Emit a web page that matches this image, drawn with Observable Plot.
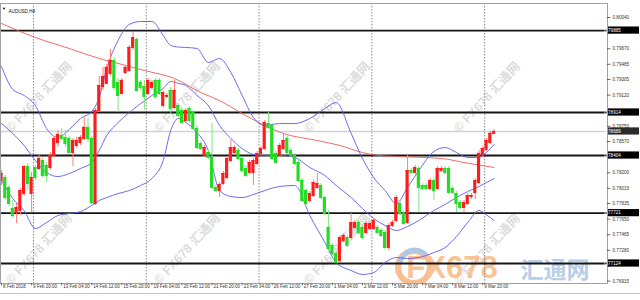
<!DOCTYPE html>
<html><head><meta charset="utf-8">
<script src="https://cdn.jsdelivr.net/npm/d3@7"></script>
<script src="https://cdn.jsdelivr.net/npm/@observablehq/plot@0.6"></script>
<style>
html,body{margin:0;padding:0;background:#fff;}
#chart{width:640px;height:300px;overflow:hidden;position:relative;}
</style></head><body><div id="chart"></div>
<script>
// ---- data (prices in points, 1 point = 0.00001) ----
const symbol = "AUDUSD,H4";
const POINT = 1e-5;
const opens  = [78108,78143,78025,77776,77728,77752,77953,78274,77953,78262,78250,78345,78286,78262,78405,78558,78642,78618,78606,78440,78523,78558,78606,78737,78606,77835,78938,79222,79258,79376,79531,79270,79139,79388,79412,79685,79780,79270,79222,79139,79210,79294,79294,78997,79104,79175,78973,78997,78938,78819,78962,78914,78725,78546,78405,78440,78381,78025,77989,78072,78143,78345,78440,78464,78369,78250,78202,78202,78309,78428,78487,78784,78760,78428,78405,78487,78606,78464,78405,78321,78108,77989,77871,77930,78025,78049,77906,77551,77338,77243,77159,77397,77432,77432,77551,77610,77551,77491,77539,77539,77551,77515,77491,77314,77574,77634,77835,77716,77610,78226,78202,78250,78049,78049,78013,78108,78013,78226,78250,78250,78013,77953,77847,77788,77835,77918,77965,78084,78405,78476,78558,78666];
const highs  = [78226,78167,78049,77871,77835,78013,78286,78309,78202,78286,78405,78381,78321,78440,78630,78701,78725,78701,78630,78606,78618,78642,78855,78843,78630,78962,79341,79448,79484,79661,79566,79317,79317,79472,79709,79862,79803,79294,79294,79317,79294,79317,79317,79175,79139,79210,79294,79021,78962,78962,78985,78938,78760,78570,78523,78464,78784,78049,78084,78214,78393,78582,78523,78487,78393,78286,78345,78369,78452,78511,78819,78914,78784,78452,78546,78666,78630,78487,78428,78345,78131,78013,77977,78108,78191,78072,77930,77752,77361,77266,77456,77479,77456,77716,77634,77634,77574,77622,77622,77657,77574,77539,77515,77598,77634,77930,77859,77740,78405,78250,78286,78274,78072,78072,78131,78131,78274,78274,78274,78274,78037,77977,77871,77871,77953,77953,78131,78464,78511,78606,78689,78713];
const lows   = [78049,77871,77800,77657,77598,77693,77918,77989,77728,78108,78226,78131,78084,78226,78369,78499,78582,78499,78417,78274,78487,78523,78582,78558,77824,77812,78914,79175,79246,79341,79175,78914,79116,79364,79388,79649,79151,79175,78938,79116,79175,79068,79116,78962,79080,78902,78950,78855,78772,78795,78784,78701,78476,78464,78381,78357,78001,77965,77906,78049,78120,78321,78405,78345,78202,78143,78179,78049,78286,78405,78464,78713,78345,78309,78381,78464,78417,78381,78286,78084,77847,77812,77847,77906,78001,77883,77693,77278,77219,77124,77136,77373,77314,77408,77527,77467,77408,77467,77515,77515,77467,77432,77290,77278,77551,77610,77693,77574,77586,78179,78179,77728,77989,77989,77989,77871,77989,78202,78179,77942,77942,77728,77752,77728,77812,77883,77883,78061,78381,78452,78534,78654];
const closes = [78191,77906,77835,77693,77788,77989,78274,78072,78143,78143,78369,78167,78167,78405,78606,78654,78606,78546,78440,78582,78582,78618,78737,78606,77847,78938,79234,79341,79448,79531,79210,79116,79294,79448,79685,79803,79175,79210,79104,79294,79270,79104,79139,79151,79116,78962,79175,78879,78795,78938,78819,78725,78499,78487,78499,78381,78025,77989,78061,78191,78369,78499,78499,78369,78226,78167,78321,78345,78428,78487,78795,78737,78369,78321,78523,78582,78440,78405,78309,78108,77871,77835,77953,78084,78072,77906,77716,77302,77243,77136,77432,77456,77338,77610,77610,77491,77432,77598,77598,77634,77491,77456,77314,77574,77610,77906,77716,77598,78226,78202,78262,78025,78013,78013,78108,77989,78250,78250,78202,77965,77965,77835,77788,77847,77930,77930,78108,78428,78487,78582,78666,78689];

const bandBars  = [0,3,6,9,12,15,18,21,24,26,28,31,34,37,40,43,45,47,49,52,55,58,61,64,67,70,74,78,82,86,89,93,96,99,102,105,108,111,115,118,121,124,127,129,131];
const bandUpper = [79460,79187,79116,78997,78724,78618,78712,78843,78926,79092,79436,79768,79958,79993,79993,79827,79709,79690,79685,79673,79507,79554,79388,79116,78855,78760,78783,78783,78843,78961,79032,78665,78369,78143,77989,77835,78025,78226,78452,78499,78440,78381,78381,78440,78535];
const bandMid   = [78783,78665,78523,78345,78202,78155,78190,78250,78321,78464,78642,78795,78914,79020,79116,79199,79282,79260,79235,79116,78997,78760,78606,78487,78417,78405,78405,78381,78262,78167,78049,77906,77776,77657,77575,77515,77563,77634,77752,77824,77906,77977,78037,78084,78131];
const bandLow   = [78108,77894,77752,77539,77610,77693,77716,77740,77812,77871,77906,77953,77989,78049,78131,78345,78701,78843,78795,78677,78464,77989,77918,77906,77942,77989,78037,78049,77693,77373,77136,77041,76994,77017,77136,77195,77183,77195,77254,77314,77444,77610,77752,77700,77634];
const maBars    = [0,9,18,26,32,38,46,53,58,64,69,75,84,90,96,100,105,117,123,131];
const maValues  = [79969,79803,79673,79554,79484,79412,79317,79151,79056,78902,78783,78665,78582,78523,78440,78405,78393,78369,78321,78262];

// horizontal levels and current price
const levelPrices  = [0.79885, 0.78914, 0.78404, 0.77721, 0.77124];
const currentPrice = 0.78689;
const yTickValues  = [0.80040,0.79855,0.79670,0.79485,0.79305,0.79120,0.78935,0.78750,0.78570,0.78385,0.78200,0.78015,0.77835,0.77650,0.77465,0.77280,0.77095,0.76915];
const timeLabels = ["8 Feb 2018","9 Feb 20:00","13 Feb 04:00","14 Feb 12:00","15 Feb 20:00","19 Feb 04:00","20 Feb 12:00","21 Feb 20:00","23 Feb 04:00","26 Feb 12:00","27 Feb 20:00","1 Mar 04:00","2 Mar 12:00","5 Mar 20:00","7 Mar 04:00","8 Mar 12:00","9 Mar 20:00"];
const barsPerLabel = 8;
const weekStartBars = [9, 39, 69, 99, 129];

// ---- build tables ----
const bars = opens.map((o, i) => ({i, o: o*POINT, h: highs[i]*POINT, l: lows[i]*POINT, c: closes[i]*POINT, up: closes[i] >= o}));
const bands = bandBars.map((b, k) => ({i: b, u: bandUpper[k]*POINT, m: bandMid[k]*POINT, l: bandLow[k]*POINT}));
const ma = maBars.map((b, k) => ({i: b, v: maValues[k]*POINT}));
const xLabels = timeLabels.map((t, k) => ({i: k*barsPerLabel, t}));
const boxedPrices = [...levelPrices, currentPrice];
// tick labels that sit under a price box are hidden by it on the reference
const shownTicks = yTickValues.filter(t => boxedPrices.every(b => Math.abs(t - b) > 0.00055));

const xMax = 161.17;
const RED = "#ff1c1c", GREEN = "#22dd22", RED_W = "#ff7d7d", GREEN_W = "#7fe87f";
const font = "Liberation Sans, Arial, sans-serif";

const plot = Plot.plot({
  width: 640, height: 300,
  marginLeft: 0, marginRight: 33, marginTop: 3, marginBottom: 17,
  x: {domain: [-0.27, xMax], axis: null},
  y: {domain: [0.76887, 0.80206], axis: null},
  color: {type: "identity"},
  style: {background: "white", fontFamily: font, overflow: "visible"},
  marks: [
    Plot.ruleX(weekStartBars, {x: d => d - 0.5, stroke: "#8a8a8a", strokeWidth: 1, strokeDasharray: "1.5,1.5"}),
    Plot.ruleY([currentPrice], {stroke: "#cdd3da", strokeWidth: 1.6}),
    Plot.ruleY(levelPrices, {stroke: "#161616", strokeWidth: 1.8}),
    Plot.line(ma, {x: "i", y: "v", stroke: "#f25a5a", strokeWidth: 0.9, curve: "monotone-x"}),
    Plot.line(bands, {x: "i", y: "u", stroke: "#5a5af0", strokeWidth: 0.9, curve: "monotone-x"}),
    Plot.line(bands, {x: "i", y: "m", stroke: "#5a5af0", strokeWidth: 0.9, curve: "monotone-x"}),
    Plot.line(bands, {x: "i", y: "l", stroke: "#5a5af0", strokeWidth: 0.9, curve: "monotone-x"}),
    Plot.ruleX(bars, {x: "i", y1: "l", y2: "h", stroke: d => d.up ? RED_W : GREEN_W, strokeWidth: 1}),
    Plot.rect(bars, {x1: d => d.i - 0.42, x2: d => d.i + 0.42, y1: "o", y2: "c", fill: d => d.up ? RED : GREEN}),
    Plot.ruleY(bars, {y: "o", x1: d => d.i - 0.42, x2: d => d.i + 0.42, stroke: d => d.up ? RED : GREEN, strokeWidth: 1}),
    Plot.ruleY(bars, {y: "c", x1: d => d.i - 0.42, x2: d => d.i + 0.42, stroke: d => d.up ? RED : GREEN, strokeWidth: 1}),
    Plot.frame({stroke: "#a0a0a0"}),
    Plot.ruleY(yTickValues, {x1: xMax, x2: xMax + 0.9, stroke: "#444", strokeWidth: 0.8}),
    Plot.text(shownTicks, {y: d => d, text: d => d.toFixed(5), frameAnchor: "right", textAnchor: "start", dx: 5, fontSize: 4.6, fill: "#333"}),
    Plot.ruleX(xLabels, {x: "i", y1: 0.76887, y2: 0.76860, stroke: "#444", strokeWidth: 0.8}),
    Plot.text(xLabels, {x: "i", text: "t", frameAnchor: "bottom", textAnchor: "start", dx: 1.5, dy: 4.4, fontSize: 4.5, fill: "#333"}),
    Plot.text([symbol], {text: d => d, frameAnchor: "top-left", textAnchor: "start", dx: 8, dy: 6, fontSize: 4.6, fill: "#111"})
  ]
});

const NS = "http://www.w3.org/2000/svg";
const svg = d3.select(plot);
const ys = plot.scale("y");

// decorative watermark layer, placed beneath all marks
const wmNode = document.createElementNS(NS, "g");
plot.insertBefore(wmNode, plot.firstChild);
const wm = d3.select(wmNode).attr("pointer-events", "none");
const defs = svg.append("defs");
defs.append("clipPath").attr("id", "plotclip").append("rect").attr("x", 0).attr("y", 3).attr("width", 607).attr("height", 280);
const wmAnchors = [[42,100],[190,100],[340,100],[490,100],[42,252],[190,252],[340,252],[490,252]];
for (const [x, y] of wmAnchors) {
  wm.append("text").attr("transform", `translate(${x},${y}) rotate(-47)`)
    .attr("font-family", "Liberation Sans, Noto Sans CJK SC, sans-serif").attr("font-weight", "bold")
    .attr("font-size", 12.5).attr("fill", "#dcdcdc").text("© FX678 汇通网");
}
// big logo at the bottom
const logo = wm.append("g").attr("opacity", 0.92);
logo.append("g").attr("clip-path", "url(#plotclip)").append("circle").attr("cx", 414).attr("cy", 267).attr("r", 16).attr("fill", "none").attr("stroke", "#f7b98a").attr("stroke-width", 6);
logo.append("path").attr("d", "M400,263 A15,15 0 0 1 426,255").attr("fill", "none").attr("stroke", "#a9c3e6").attr("stroke-width", 5);
logo.append("text").attr("x", 452).attr("y", 278).attr("font-family", "Liberation Sans, sans-serif").attr("font-weight", "bold")
  .attr("font-size", 31).attr("fill", "#f9bf8c").text("FX678");
logo.append("text").attr("x", 555).attr("y", 278).attr("font-family", "Noto Sans CJK SC, sans-serif").attr("font-weight", "bold")
  .attr("font-size", 23).attr("fill", "#b3cbe9").text("汇通网");

// symbol caption marker
svg.append("path").attr("d", "M2.5,7.8 L5.5,7.8 L4,9.8 Z").attr("fill", "#111");

// price boxes for levels and current price
const boxes = svg.append("g");
for (const p of boxedPrices) {
  const y = ys.apply(p);
  boxes.append("rect").attr("x", 608).attr("y", y - 3.6).attr("width", 31).attr("height", 7.2).attr("fill", p === currentPrice ? "#2b2b2b" : "#000");
  boxes.append("text").attr("x", 612.5).attr("y", y).attr("dy", "0.35em").attr("font-family", font).attr("font-size", 4.6).attr("fill", "#fff").text(p.toFixed(5));
}
// bottom window line
svg.append("line").attr("x1", 0).attr("x2", 640).attr("y1", 293.5).attr("y2", 293.5).attr("stroke", "#c4c4c4");

document.getElementById("chart").appendChild(plot);
</script></body></html>
